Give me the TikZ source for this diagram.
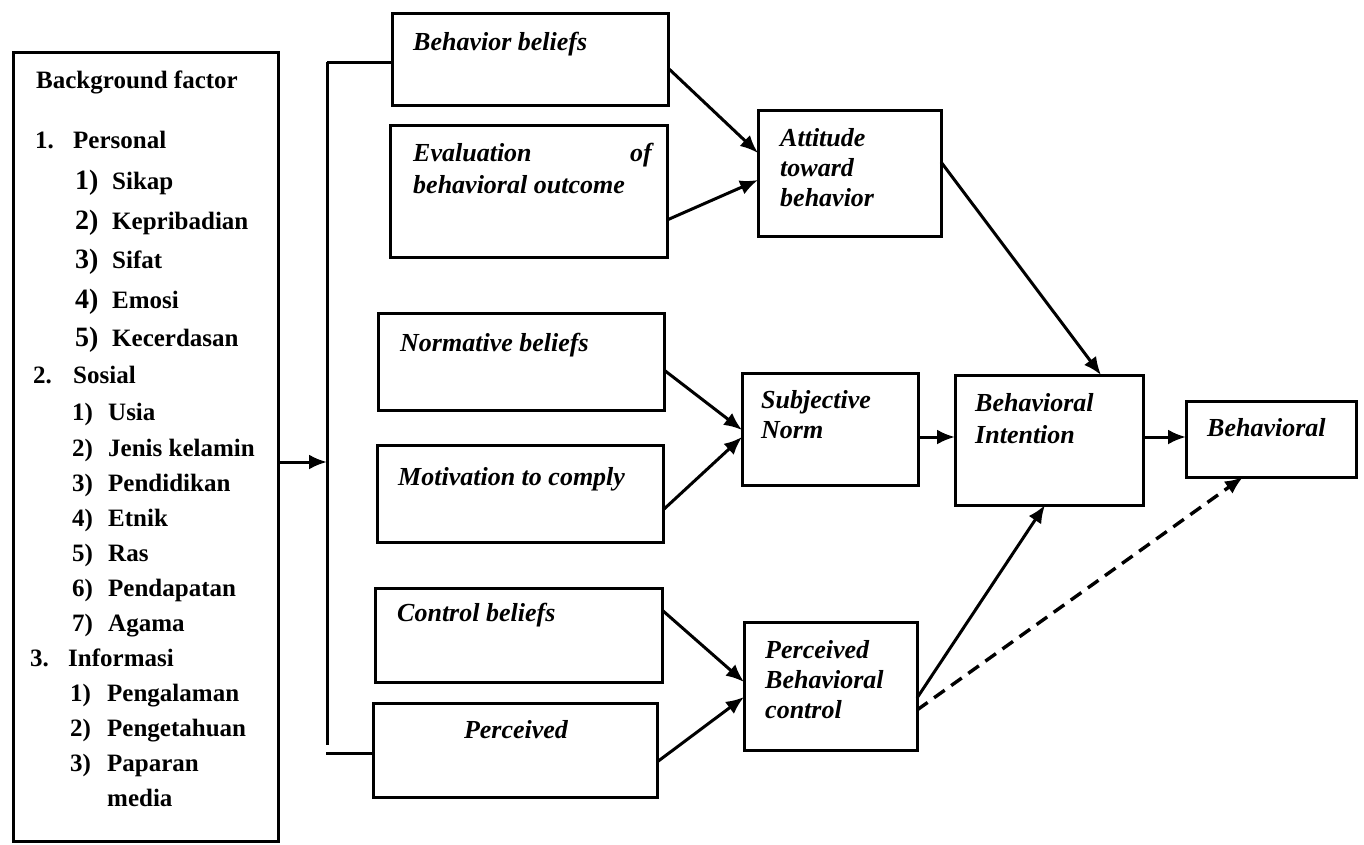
\documentclass[tikz,border=0pt]{standalone}
\usepackage{fontspec}
\setmainfont{Liberation Serif}
\usetikzlibrary{arrows.meta}
\begin{document}
\begin{tikzpicture}[x=1pt,y=-1pt,
  frame/.style={draw, line width=3pt, inner sep=0pt, outer sep=0pt, anchor=north west},
  bt/.style={anchor=base west, inner sep=0pt, font=\bfseries\fontsize{25}{30}\selectfont},
  bn/.style={anchor=base west, inner sep=0pt, font=\bfseries\fontsize{28}{30}\selectfont},
  it/.style={anchor=base west, inner sep=0pt, font=\bfseries\itshape\fontsize{26}{30}\selectfont},
  link/.style={line width=3pt, -{Latex[length=18pt,width=15pt]}},
  plain/.style={line width=3pt},
  dashlink/.style={line width=3.4pt, dash pattern=on 13pt off 8pt, -{Latex[length=18pt,width=15pt]}}]

\useasboundingbox (0,0) rectangle (1364,844);

% boxes
\node[frame, minimum width=265pt, minimum height=789pt] (bg) at (13,52) {};
\node[frame, minimum width=276pt, minimum height=92pt] (bb) at (392,13) {};
\node[frame, minimum width=277pt, minimum height=132pt] (ev) at (390,125) {};
\node[frame, minimum width=183pt, minimum height=126pt] (att) at (758,110) {};
\node[frame, minimum width=286pt, minimum height=97pt] (nb) at (378,313) {};
\node[frame, minimum width=286pt, minimum height=97pt] (mc) at (377,445) {};
\node[frame, minimum width=176pt, minimum height=112pt] (sn) at (742,373) {};
\node[frame, minimum width=188pt, minimum height=130pt] (bi) at (955,375) {};
\node[frame, minimum width=170pt, minimum height=76pt] (beh) at (1186,401) {};
\node[frame, minimum width=287pt, minimum height=94pt] (cb) at (375,588) {};
\node[frame, minimum width=284pt, minimum height=94pt] (pc) at (373,703) {};
\node[frame, minimum width=173pt, minimum height=128pt] (pbc) at (744,622) {};

% background factor list
\node[bt] (bgt) at (36,88) {Background factor};
\node[bt] (p0n) at (35,148) {1.};
\node[bt] (p0) at (73,148) {Personal};
\node[bn] (p1n) at (75,189) {1)};
\node[bt] (p1) at (112,189) {Sikap};
\node[bn] (p2n) at (75,229) {2)};
\node[bt] (p2) at (112,229) {Kepribadian};
\node[bn] (p3n) at (75,268) {3)};
\node[bt] (p3) at (112,268) {Sifat};
\node[bn] (p4n) at (75,308) {4)};
\node[bt] (p4) at (112,308) {Emosi};
\node[bn] (p5n) at (75,346) {5)};
\node[bt] (p5) at (112,346) {Kecerdasan};
\node[bt] (s0n) at (33,383) {2.};
\node[bt] (s0) at (73,383) {Sosial};
\node[bt] (s1n) at (72,420) {1)};
\node[bt] (s1) at (108,420) {Usia};
\node[bt] (s2n) at (72,456) {2)};
\node[bt] (s2) at (108,456) {Jenis kelamin};
\node[bt] (s3n) at (72,491) {3)};
\node[bt] (s3) at (108,491) {Pendidikan};
\node[bt] (s4n) at (72,526) {4)};
\node[bt] (s4) at (108,526) {Etnik};
\node[bt] (s5n) at (72,561) {5)};
\node[bt] (s5) at (108,561) {Ras};
\node[bt] (s6n) at (72,596) {6)};
\node[bt] (s6) at (108,596) {Pendapatan};
\node[bt] (s7n) at (72,631) {7)};
\node[bt] (s7) at (108,631) {Agama};
\node[bt] (i0n) at (30,666) {3.};
\node[bt] (i0) at (68,666) {Informasi};
\node[bt] (i1n) at (70,701) {1)};
\node[bt] (i1) at (107,701) {Pengalaman};
\node[bt] (i2n) at (70,736) {2)};
\node[bt] (i2) at (107,736) {Pengetahuan};
\node[bt] (i3n) at (70,771) {3)};
\node[bt] (i3) at (107,771) {Paparan};
\node[bt] (i3b) at (107,806) {media};

% box labels
\node[it] (bbt) at (413,50) {Behavior beliefs};
\node[it] (ev1) at (413,161) {Evaluation};
\node[it, anchor=base east] (ev2) at (652,161) {of};
\node[it] (ev3) at (413,193) {behavioral outcome};
\node[it] (att1) at (780,146) {Attitude};
\node[it] (att2) at (780,176) {toward};
\node[it] (att3) at (780,206) {behavior};
\node[it] (nbt) at (400,351) {Normative beliefs};
\node[it] (mct) at (398,485) {Motivation to comply};
\node[it] (sn1) at (761,408) {Subjective};
\node[it] (sn2) at (761,438) {Norm};
\node[it] (bi1) at (975,411) {Behavioral};
\node[it] (bi2) at (975,443) {Intention};
\node[it] (beht) at (1207,436) {Behavioral};
\node[it] (cbt) at (397,621) {Control beliefs};
\node[it, anchor=base] (pct) at (516,738) {Perceived};
\node[it] (pbc1) at (765,658) {Perceived};
\node[it] (pbc2) at (765,688) {Behavioral};
\node[it] (pbc3) at (765,718) {control};

% bracket joining the background factors to the belief boxes
\coordinate (jt) at (327,62);
\coordinate (jb) at (327,745);
\coordinate (jm) at (327,462);
\coordinate (jl) at (326,753);
\draw[plain] (jt) -- (jb);
\draw[plain] (jt) -- (bb.west |- jt);
\draw[plain] (jl) -- (pc.west |- jl);
\draw[link] (bg.east |- jm) -- (jm);

% connectors
\draw[link] (bb.east |- 0,68) -- (att.west |- 0,153);
\draw[link] (ev.east |- 0,220) -- (att.west |- 0,180);
\draw[link] (att.east |- 0,162) -- (bi.north -| 1101,0);
\draw[link] (nb.east |- 0,370) -- (sn.west |- 0,430);
\draw[link] (mc.east |- 0,510) -- (sn.west |- 0,437);
\draw[link] (sn.east |- 0,437) -- (bi.west |- 0,437);
\draw[link] (bi.east |- 0,437) -- (beh.west |- 0,437);
\draw[link] (cb.east |- 0,610) -- (pbc.west |- 0,682);
\draw[link] (pc.east |- 0,762) -- (pbc.west |- 0,697);
\draw[link] (pbc.east |- 0,698) -- (bi.south -| 1045,0);
\draw[dashlink] (pbc.east |- 0,710) -- (beh.south -| 1243,0);

\end{tikzpicture}
\end{document}
